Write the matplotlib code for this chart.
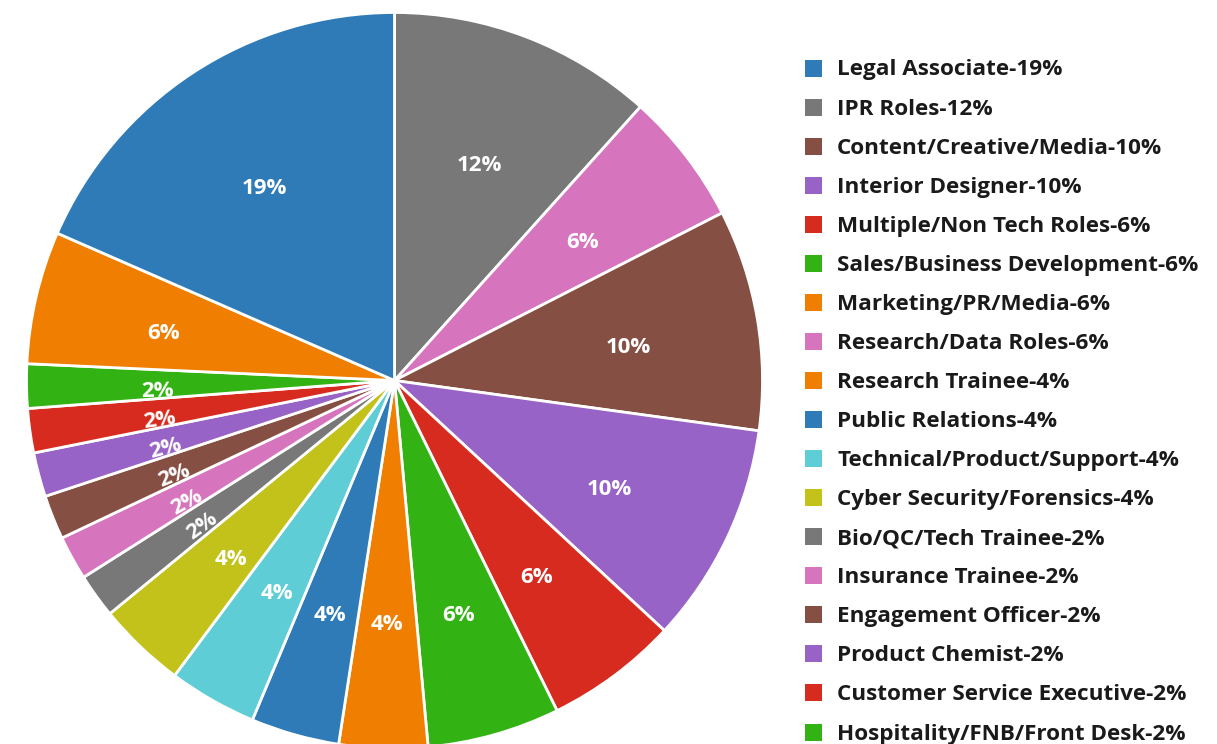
import numpy as np
import matplotlib
matplotlib.use('Agg')
import matplotlib.pyplot as plt
from matplotlib.patches import Rectangle

# legend order
roles = ["Legal Associate", "IPR Roles", "Content/Creative/Media", "Interior Designer",
         "Multiple/Non Tech Roles", "Sales/Business Development", "Marketing/PR/Media",
         "Research/Data Roles", "Research Trainee", "Public Relations",
         "Technical/Product/Support", "Cyber Security/Forensics", "Bio/QC/Tech Trainee",
         "Insurance Trainee", "Engagement Officer", "Product Chemist",
         "Customer Service Executive", "Hospitality/FNB/Front Desk"]
percents = [19, 12, 10, 10, 6, 6, 6, 6, 4, 4, 4, 4, 2, 2, 2, 2, 2, 2]
colors = ["#2f7bb8", "#787878", "#854f43", "#9863c6", "#d72b1f", "#33b313", "#f07e00",
          "#d675be", "#f07e00", "#2f7bb8", "#5ecdd6", "#c2c21a", "#787878", "#d675be",
          "#854f43", "#9863c6", "#d72b1f", "#33b313"]

# slice order, clockwise from 12 o'clock
pie_order = ["IPR Roles", "Research/Data Roles", "Content/Creative/Media", "Interior Designer",
             "Multiple/Non Tech Roles", "Sales/Business Development", "Research Trainee",
             "Public Relations", "Technical/Product/Support", "Cyber Security/Forensics",
             "Bio/QC/Tech Trainee", "Insurance Trainee", "Engagement Officer",
             "Product Chemist", "Customer Service Executive", "Hospitality/FNB/Front Desk",
             "Marketing/PR/Media", "Legal Associate"]

FONT = "Open Sans"

fig = plt.figure(figsize=(12.17, 7.44), dpi=100)
W, H = 1217, 744
cx, cy, r = 394.5, 380.5, 368
ax = fig.add_axes([(cx - r) / W, (H - cy - r) / H, 2 * r / W, 2 * r / H])

idx = [roles.index(n) for n in pie_order]
vals = [percents[i] for i in idx]
cols = [colors[i] for i in idx]
wedges, _ = ax.pie(vals, colors=cols, startangle=90, counterclock=False,
                   wedgeprops=dict(edgecolor="white", linewidth=2), radius=1)
ax.set_xlim(-1, 1)
ax.set_ylim(-1, 1)
ax.set_aspect("equal")
ax.axis("off")

# percentage labels inside slices, small ones turned along the radius
d = 0.645
shift = 7 / r  # labels sit a little below the anchor point
for w, i in zip(wedges, idx):
    mid = (w.theta1 + w.theta2) / 2
    a = np.deg2rad(mid)
    rot = 0
    if percents[i] == 2:
        rot = mid - 180
    ax.text(d * np.cos(a), d * np.sin(a) - shift, f"{percents[i]}%", color="white",
            fontsize=16, fontweight="bold", family=FONT, ha="center", va="center",
            rotation=rot, rotation_mode="anchor")

# legend
y0, dy = 68, 39.06
for k, (name, c, p) in enumerate(zip(roles, colors, percents)):
    y = y0 + k * dy
    fig.patches.append(Rectangle((805 / W, 1 - (y + 8.5) / H), 17 / W, 17 / H,
                                 transform=fig.transFigure, facecolor=c, edgecolor="none"))
    fig.text(837 / W, 1 - (y + 2) / H, f"{name}-{p}%", fontsize=16.2, fontweight="bold",
             family=FONT, color="#1a1a1a", ha="left", va="center")

fig.savefig("out.png", dpi=100)
